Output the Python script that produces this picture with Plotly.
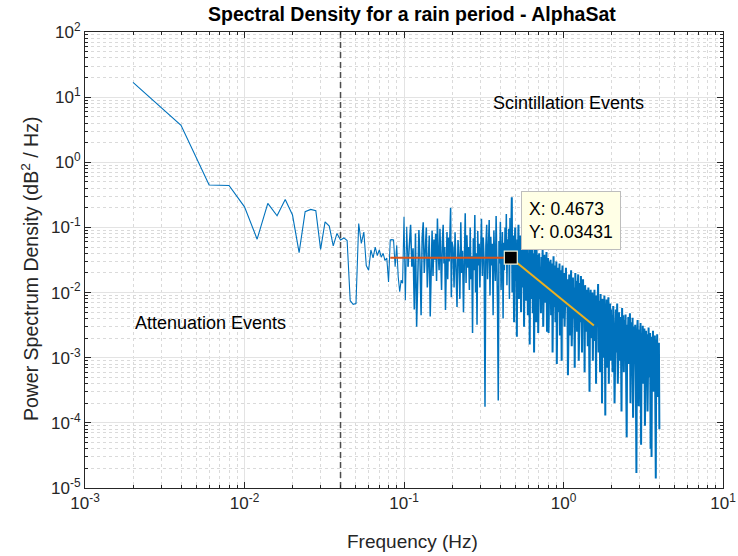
import plotly.graph_objects as go

# ---------------- data ----------------
freq_a = [0.002, 0.004, 0.006, 0.008, 0.010, 0.012, 0.014, 0.016, 0.018, 0.020, 0.022,
          0.024, 0.026, 0.028, 0.030, 0.032, 0.034, 0.036, 0.038, 0.040, 0.042, 0.044]
psd_a = [16.9, 3.69, 0.447, 0.44, 0.207, 0.066, 0.234, 0.151, 0.269, 0.155, 0.041,
         0.174, 0.189, 0.18, 0.046, 0.122, 0.105, 0.052, 0.081, 0.064, 0.069, 0.063]

freq_b = [0.046, 0.048, 0.050, 0.052, 0.054, 0.056, 0.058, 0.060, 0.062, 0.064, 0.066,
          0.068, 0.070, 0.072, 0.074, 0.076, 0.078, 0.080, 0.082, 0.084, 0.086, 0.088,
          0.090, 0.092, 0.094, 0.096, 0.098, 0.100, 0.102, 0.104]
psd_b = [0.0075, 0.0066, 0.0068, 0.115, 0.057, 0.085, 0.026, 0.022, 0.045, 0.034, 0.050,
         0.037, 0.045, 0.035, 0.040, 0.031, 0.034, 0.0146, 0.064, 0.065, 0.064, 0.025,
         0.053, 0.0174, 0.0103, 0.0155, 0.0139, 0.146, 0.0076, 0.102]

freq_c = [0.106, 0.108, 0.110, 0.112, 0.114, 0.116, 0.118, 0.120, 0.122, 0.124, 0.126,
          0.128, 0.130, 0.132, 0.134, 0.136, 0.138, 0.140, 0.142, 0.144, 0.146, 0.148,
          0.150, 0.152, 0.154, 0.156, 0.158, 0.160, 0.162, 0.164, 0.166, 0.168, 0.170,
          0.172, 0.174, 0.176, 0.178, 0.180, 0.182, 0.184, 0.186, 0.188, 0.190, 0.192,
          0.194, 0.196, 0.198, 0.200]
psd_c = [0.025, 0.062, 0.11, 0.025, 0.048, 0.0055, 0.081, 0.003, 0.025, 0.091, 0.03,
         0.0045, 0.07, 0.12, 0.02, 0.055, 0.1, 0.012, 0.045, 0.075, 0.0043, 0.03,
         0.09, 0.018, 0.065, 0.032, 0.08, 0.015, 0.137, 0.04, 0.022, 0.095, 0.035,
         0.011, 0.06, 0.11, 0.028, 0.05, 0.0054, 0.04, 0.085, 0.016, 0.07, 0.03,
         0.12, 0.2, 0.0085, 0.06]

freq_d1 = [0.203, 0.206, 0.209, 0.212, 0.215, 0.218, 0.221, 0.224, 0.227, 0.230,
           0.233, 0.236, 0.239, 0.242, 0.245, 0.248, 0.251, 0.254, 0.257, 0.260,
           0.263, 0.266, 0.269, 0.272, 0.275, 0.278, 0.281, 0.284, 0.287, 0.290,
           0.293, 0.296, 0.299, 0.302]
psd_d1 = [0.048, 0.012, 0.084, 0.028, 0.006, 0.064, 0.036, 0.008, 0.12, 0.02,
          0.044, 0.005, 0.096, 0.165, 0.014, 0.076, 0.024, 0.05, 0.011, 0.1,
          0.016, 0.036, 0.0024, 0.068, 0.022, 0.155, 0.01, 0.04, 0.0032, 0.088,
          0.026, 0.056, 0.012, 0.038]

freq_d2 = [0.306, 0.310, 0.314, 0.318, 0.322, 0.326, 0.330, 0.334, 0.338, 0.342,
           0.346, 0.350, 0.354, 0.358, 0.362, 0.366, 0.370, 0.374, 0.378, 0.382,
           0.386, 0.390, 0.394, 0.398, 0.402, 0.406, 0.410, 0.414, 0.418, 0.422,
           0.426, 0.430, 0.434, 0.438, 0.442, 0.446, 0.450, 0.454, 0.458, 0.462,
           0.466, 0.4673]
psd_d2 = [0.136, 0.018, 0.07, 0.03, 0.000176, 0.052, 0.11, 0.016, 0.038, 0.13,
          0.009, 0.072, 0.026, 0.056, 0.0045, 0.09, 0.034, 0.015, 0.15, 0.04,
          0.006, 0.00022, 0.062, 0.028, 0.122, 0.011, 0.048, 0.085, 0.004, 0.058,
          0.022, 0.1, 0.035, 0.16, 0.013, 0.066, 0.03, 0.095, 0.008, 0.14,
          0.045, 0.03431]

freq_e1 = [0.470, 0.474, 0.478, 0.482, 0.486, 0.490, 0.494, 0.498, 0.502, 0.506,
           0.510, 0.514, 0.518, 0.522, 0.526, 0.530, 0.534, 0.538, 0.542, 0.546,
           0.550, 0.554, 0.558, 0.562, 0.566, 0.570, 0.574, 0.578, 0.582, 0.586,
           0.590, 0.594, 0.598, 0.602, 0.606, 0.610, 0.614, 0.618, 0.622, 0.626,
           0.630, 0.634, 0.638, 0.642, 0.646, 0.650, 0.654, 0.658, 0.662, 0.666,
           0.670, 0.674, 0.678, 0.682, 0.686, 0.690, 0.694, 0.698]
psd_e1 = [0.06, 0.29, 0.01, 0.075, 0.025, 0.0035, 0.05, 0.1, 0.015, 0.04,
          0.0021, 0.065, 0.03, 0.11, 0.008, 0.045, 0.018, 0.075, 0.005, 0.035,
          0.06, 0.012, 0.028, 0.08, 0.003, 0.042, 0.016, 0.055, 0.0075, 0.03,
          0.065, 0.02, 0.0045, 0.04, 0.012, 0.05, 0.0016, 0.028, 0.045, 0.008,
          0.035, 0.015, 0.055, 0.0048, 0.025, 0.04, 0.0012, 0.022, 0.05, 0.009,
          0.03, 0.0035, 0.045, 0.018, 0.007, 0.038, 0.0024, 0.025]

freq_e2 = [0.704, 0.710, 0.716, 0.722, 0.728, 0.734, 0.740, 0.746, 0.752, 0.758,
           0.764, 0.770, 0.776, 0.782, 0.788, 0.794, 0.800, 0.806, 0.812, 0.818,
           0.824, 0.830, 0.836, 0.842, 0.848, 0.854, 0.860, 0.866, 0.872, 0.878,
           0.884, 0.890, 0.896, 0.902, 0.908, 0.914, 0.920, 0.926, 0.932, 0.938,
           0.944, 0.950, 0.956, 0.962, 0.968, 0.974, 0.980, 0.986, 0.992, 0.998]
psd_e2 = [0.04, 0.008, 0.025, 0.0048, 0.035, 0.014, 0.045, 0.003, 0.02, 0.038,
          0.007, 0.03, 0.016, 0.042, 0.0025, 0.024, 0.034, 0.0024, 0.018, 0.03,
          0.01, 0.032, 0.0045, 0.022, 0.028, 0.0012, 0.02, 0.036, 0.006, 0.015,
          0.026, 0.0035, 0.018, 0.03, 0.0008, 0.014, 0.024, 0.005, 0.02, 0.011,
          0.028, 0.0022, 0.015, 0.022, 0.006, 0.0009, 0.019, 0.026, 0.004, 0.016]

freq_f1 = [1.006, 1.016, 1.026, 1.036, 1.046, 1.056, 1.066, 1.076, 1.086, 1.096,
           1.106, 1.116, 1.126, 1.136, 1.146, 1.156, 1.166, 1.176, 1.186, 1.196,
           1.206, 1.216, 1.226, 1.236, 1.246, 1.256, 1.266, 1.276, 1.286, 1.296,
           1.306, 1.316, 1.326, 1.336, 1.346, 1.356, 1.366, 1.376, 1.386, 1.396]
psd_f1 = [0.02, 0.003, 0.013, 0.024, 0.006, 0.016, 0.00054, 0.011, 0.019, 0.0022,
          0.014, 0.022, 0.0015, 0.009, 0.017, 0.004, 0.012, 0.0007, 0.02, 0.008,
          0.015, 0.0025, 0.011, 0.019, 0.0009, 0.008, 0.014, 0.0035, 0.018, 0.006,
          0.0012, 0.012, 0.016, 0.0045, 0.009, 0.0006, 0.013, 0.007, 0.0025, 0.011]

freq_f2 = [1.408, 1.420, 1.432, 1.444, 1.456, 1.468, 1.480, 1.492, 1.504, 1.516,
           1.528, 1.540, 1.552, 1.564, 1.576, 1.588, 1.600, 1.612, 1.624, 1.636,
           1.648, 1.660, 1.672, 1.684, 1.696, 1.708, 1.720, 1.732, 1.744, 1.756,
           1.768, 1.780, 1.792, 1.804, 1.816, 1.828, 1.840, 1.852, 1.864, 1.876,
           1.888, 1.900, 1.912, 1.924, 1.936, 1.948, 1.960, 1.972, 1.984, 1.996]
psd_f2 = [0.009, 0.0015, 0.012, 0.004, 0.0003, 0.0075, 0.011, 0.002, 0.006, 0.01,
          0.0009, 0.0085, 0.0045, 0.011, 0.0018, 0.006, 0.0004, 0.009, 0.003, 0.0065,
          0.0135, 0.0012, 0.005, 0.0075, 0.0006, 0.0095, 0.0028, 0.006, 0.0002, 0.008,
          0.0035, 0.0068, 0.001, 0.009, 0.0045, 0.00013, 0.0058, 0.0025, 0.0078, 0.0007,
          0.0062, 0.0018, 0.0085, 0.0004, 0.005, 0.003, 0.0068, 0.0009, 0.0055, 0.0022]

freq_g1 = [2.010, 2.030, 2.050, 2.070, 2.090, 2.110, 2.130, 2.150, 2.170, 2.190,
           2.210, 2.230, 2.250, 2.270, 2.290, 2.310, 2.330, 2.350, 2.370, 2.390,
           2.410, 2.430, 2.450, 2.470, 2.490, 2.510, 2.530, 2.550, 2.570, 2.590,
           2.610, 2.630, 2.650, 2.670, 2.690, 2.710, 2.730, 2.750, 2.770, 2.790]
psd_g1 = [0.0045, 0.0006, 0.0062, 0.0025, 0.0002, 0.0038, 0.0055, 0.0012, 0.0068, 0.0004,
          0.0035, 0.005, 0.0009, 0.0042, 0.0022, 0.00015, 0.0058, 0.0015, 0.0045, 0.0006,
          0.0038, 0.0012, 0.0046, 0.0003, 0.00006, 0.0032, 0.0018, 0.0042, 0.0008, 0.0028,
          0.0048, 0.0002, 0.0025, 0.0035, 0.0007, 0.0041, 0.00012, 0.0022, 0.003, 0.0009]

freq_g2 = [2.815, 2.840, 2.865, 2.890, 2.915, 2.940, 2.965, 2.990, 3.015, 3.040,
           3.065, 3.090, 3.115, 3.140, 3.165, 3.190, 3.215, 3.240, 3.265, 3.290,
           3.315, 3.340, 3.365, 3.390, 3.415, 3.440, 3.465, 3.490, 3.515, 3.540,
           3.565, 3.590, 3.615, 3.640, 3.665, 3.690, 3.715, 3.740, 3.765, 3.790,
           3.815, 3.840, 3.865, 3.890, 3.915, 3.940, 3.965, 3.990]
psd_g2 = [0.0032, 0.0006, 0.000017, 0.0022, 0.0038, 0.0009, 0.00018, 0.0027, 0.0014, 0.0034,
          0.000046, 0.0024, 0.0011, 0.0031, 0.0004, 0.0019, 0.0028, 0.00009, 0.0016, 0.0026,
          0.0007, 0.0023, 0.00015, 0.0019, 0.0029, 0.0005, 0.0014, 0.0024, 0.00004, 0.0018,
          0.00003, 0.0021, 0.0008, 0.0026, 0.0003, 0.0017, 0.0012, 0.0022, 0.0001, 0.000014,
          0.0019, 0.0006, 0.0023, 0.00025, 0.0015, 0.0009, 0.0017, 0.00008]

# sparse (low-frequency), medium-density and dense (high-frequency) parts of the one PSD curve
freq_sparse = freq_a + freq_b + freq_c[:1]
psd_sparse = psd_a + psd_b + psd_c[:1]
freq_mid = freq_c + freq_d1 + freq_d2
psd_mid = psd_c + psd_d1 + psd_d2
freq_dense = freq_d2[-1:] + freq_e1 + freq_e2 + freq_f1 + freq_f2 + freq_g1 + freq_g2
psd_dense = psd_d2[-1:] + psd_e1 + psd_e2 + psd_f1 + psd_f2 + psd_g1 + psd_g2

boundary_x = [0.04, 0.04]
boundary_y = [1e-5, 1e2]

flat_fit_x = [0.082, 0.4673]
flat_fit_y = [0.03431, 0.03431]
slope_fit_x = [0.4673, 1.55]
slope_fit_y = [0.03431, 0.00312]

tip_x = 0.4673
tip_y = 0.03431

x_tick_vals = [1e-3, 1e-2, 1e-1, 1e0, 1e1]
x_tick_text = ["10<sup>-3</sup>", "10<sup>-2</sup>", "10<sup>-1</sup>", "10<sup>0</sup>", "10<sup>1</sup>"]
y_tick_vals = [1e-5, 1e-4, 1e-3, 1e-2, 1e-1, 1e0, 1e1, 1e2]
y_tick_text = ["10<sup>-5</sup>", "10<sup>-4</sup>", "10<sup>-3</sup>", "10<sup>-2</sup>",
               "10<sup>-1</sup>", "10<sup>0</sup>", "10<sup>1</sup>", "10<sup>2</sup>"]

# ---------------- figure ----------------
FONT = "Liberation Sans, Arial, Helvetica, sans-serif"
TXT = "#262626"
BLUE = "#0072BD"

fig = go.Figure()
fig.add_trace(go.Scatter(x=freq_sparse, y=psd_sparse, mode="lines",
                         line=dict(color=BLUE, width=1.1), hoverinfo="skip"))
fig.add_trace(go.Scatter(x=freq_mid, y=psd_mid, mode="lines",
                         line=dict(color=BLUE, width=1.5), hoverinfo="skip"))
fig.add_trace(go.Scatter(x=freq_dense, y=psd_dense, mode="lines",
                         line=dict(color=BLUE, width=2.0), hoverinfo="skip"))
fig.add_trace(go.Scatter(x=boundary_x, y=boundary_y, mode="lines",
                         line=dict(color="#4D4D4D", width=1.5, dash="6px,4px"), hoverinfo="skip"))
fig.add_trace(go.Scatter(x=flat_fit_x, y=flat_fit_y, mode="lines",
                         line=dict(color="#D95319", width=2), hoverinfo="skip"))
fig.add_trace(go.Scatter(x=slope_fit_x, y=slope_fit_y, mode="lines",
                         line=dict(color="#EDB120", width=2), hoverinfo="skip"))
fig.add_trace(go.Scatter(x=[tip_x], y=[tip_y], mode="markers",
                         marker=dict(symbol="square", size=13, color="black",
                                     line=dict(color="#F2F2D8", width=1.2)),
                         hoverinfo="skip"))


def minor_vals(lo, hi):
    vals = []
    for e in range(lo, hi):
        for m in range(2, 10):
            vals.append(m * 10.0 ** e)
    return vals


axis_common = dict(
    type="log", showline=True, linecolor=TXT, linewidth=1, mirror="allticks",
    ticks="inside", ticklen=6, tickcolor=TXT, tickwidth=1, automargin=False,
    showgrid=True, gridcolor="#E3E3E3", gridwidth=1, zeroline=False,
    tickfont=dict(family=FONT, size=17, color=TXT),
)

fig.update_xaxes(range=[-3, 1], tickmode="array", tickvals=x_tick_vals, ticktext=x_tick_text,
                 minor=dict(tickmode="array", tickvals=minor_vals(-3, 1), ticks="inside",
                            ticklen=3, tickcolor=TXT, showgrid=True,
                            gridcolor="#DADADA", griddash="dot", gridwidth=1),
                 **axis_common)
fig.update_yaxes(range=[-5, 2], tickmode="array", tickvals=y_tick_vals, ticktext=y_tick_text,
                 minor=dict(tickmode="array", tickvals=minor_vals(-5, 2), ticks="inside",
                            ticklen=3, tickcolor=TXT, showgrid=True,
                            gridcolor="#DADADA", griddash="dot", gridwidth=1),
                 **axis_common)

annotations = [
    dict(text="<b>Spectral Density for a rain period - AlphaSat</b>", xref="paper", yref="paper",
         x=0.513, y=1.0, yshift=18, xanchor="center", yanchor="middle", showarrow=False,
         font=dict(family=FONT, size=19.5, color="black")),
    dict(text="Frequency (Hz)", xref="paper", yref="paper", x=0.514, y=0, yshift=-53,
         xanchor="center", yanchor="middle", showarrow=False,
         font=dict(family=FONT, size=19, color=TXT)),
    dict(text="Power Spectrum Density (dB<sup>2</sup> / Hz)", xref="paper", yref="paper",
         x=0, y=0.48, xshift=-55, xanchor="center", yanchor="middle", textangle=-90,
         showarrow=False, font=dict(family=FONT, size=19.5, color=TXT)),
    dict(text="Scintillation Events", x=-0.455, y=0.908, xref="x", yref="y",
         xanchor="left", yanchor="middle", showarrow=False,
         font=dict(family=FONT, size=18, color="black")),
    dict(text="Attenuation Events", x=-2.699, y=-2.47, xref="x", yref="y",
         xanchor="left", yanchor="middle", showarrow=False,
         font=dict(family=FONT, size=18, color="black")),
    dict(text="X: 0.4673<br>Y: 0.03431", x=-0.3304, y=-1.4646, xref="x", yref="y",
         xanchor="left", yanchor="bottom", xshift=10, yshift=8, align="left",
         showarrow=False, bgcolor="#FFFFE6", bordercolor="#BDBDBD", borderwidth=1,
         borderpad=7, font=dict(family=FONT, size=17.5, color="black")),
]

fig.update_layout(
    width=738, height=556, margin=dict(l=85, r=15, t=32, b=68),
    plot_bgcolor="white", paper_bgcolor="white", showlegend=False,
    annotations=annotations, font=dict(family=FONT),
)

fig.write_html("out.html")
